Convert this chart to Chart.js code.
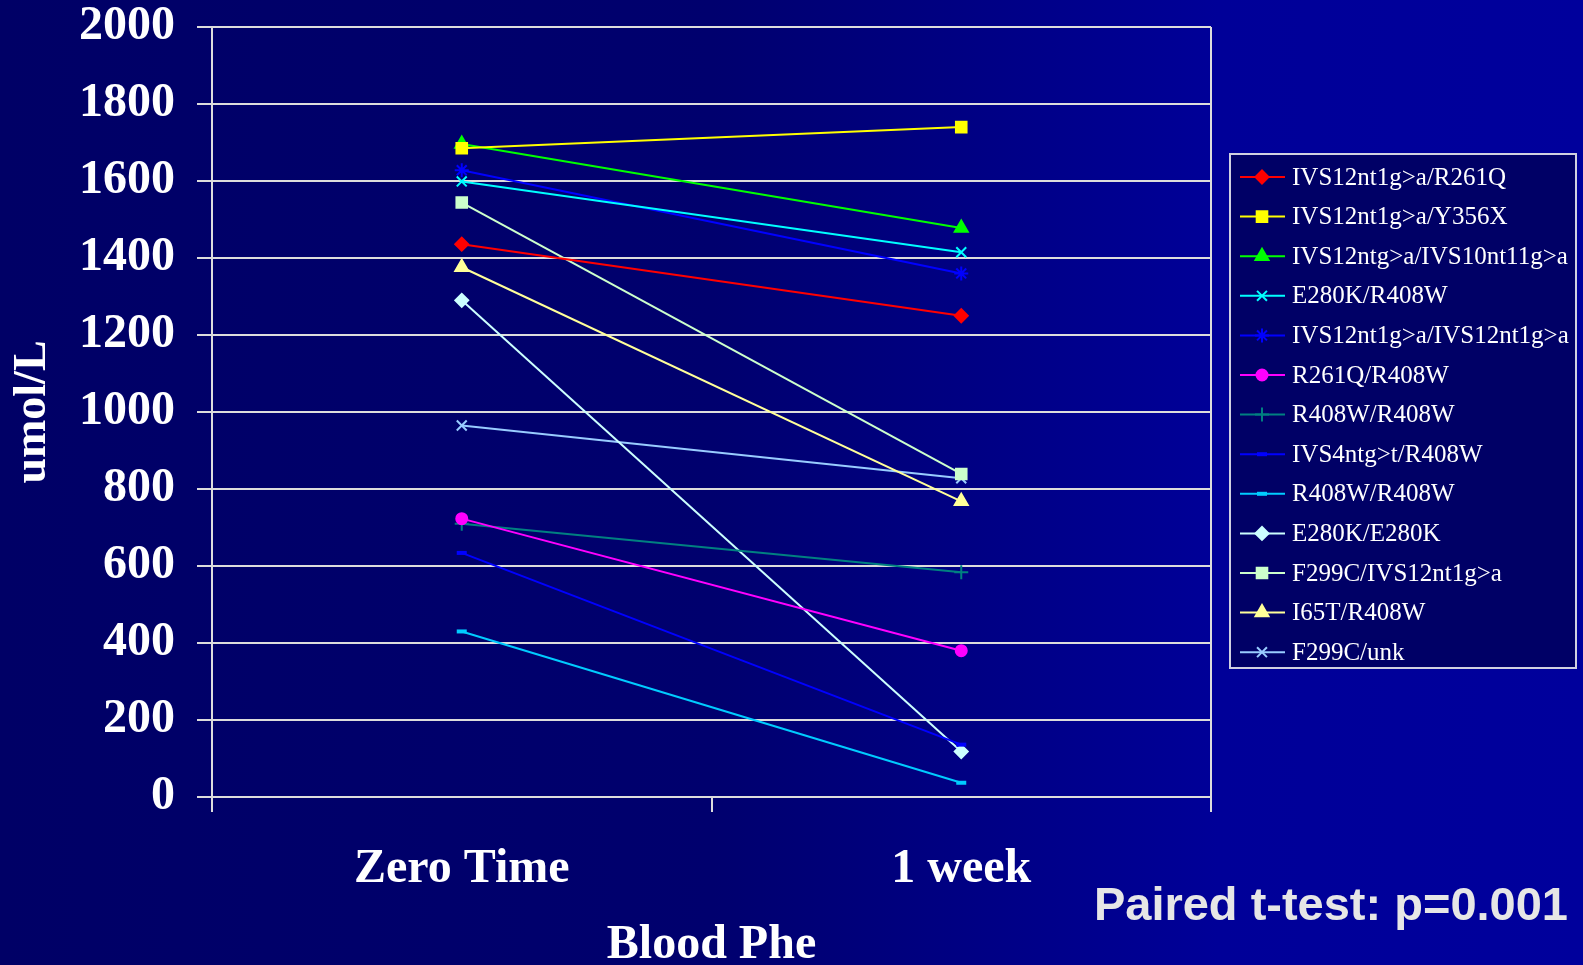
<!DOCTYPE html>
<html>
<head>
<meta charset="utf-8">
<script src="https://cdn.jsdelivr.net/npm/chart.js@4.4.1/dist/chart.umd.min.js"></script>
<style>
  body { margin: 0; background: #000066; }
  #wrap { width: 1583px; height: 965px; }
</style>
</head>
<body>
<div id="wrap"><canvas id="pheChart"></canvas></div>
<script>
// Categories on the x axis
const timePoints = ['Zero Time', '1 week'];

// Genotype names, in legend order
const genotypes = [
    'IVS12nt1g>a/R261Q',
    'IVS12nt1g>a/Y356X',
    'IVS12ntg>a/IVS10nt11g>a',
    'E280K/R408W',
    'IVS12nt1g>a/IVS12nt1g>a',
    'R261Q/R408W',
    'R408W/R408W',
    'IVS4ntg>t/R408W',
    'R408W/R408W',
    'E280K/E280K',
    'F299C/IVS12nt1g>a',
    'I65T/R408W',
    'F299C/unk'
];

// Blood Phe (umol/L) at zero time and after 1 week
const zeroTime = [1436, 1685, 1696, 1599, 1628, 723, 710, 634, 430, 1290, 1544, 1376, 965];
const oneWeek  = [1250, 1740, 1478, 1415, 1360, 380, 584, 136, 37, 118, 839, 768, 828];

// y axis ticks
const yTicks = [0, 200, 400, 600, 800, 1000, 1200, 1400, 1600, 1800, 2000];

// Look of each series
const lineColours = ['#ff0000', '#ffff00', '#00ff00', '#00ffff', '#0000ff', '#ff00ff', '#008080',
                     '#0000ff', '#00ccff', '#ccffff', '#ccffcc', '#ffff99', '#99ccff'];
const markers = ['rectRot', 'rect', 'triangle', 'crossRot', 'star', 'circle', 'cross',
                 'line', 'line', 'rectRot', 'rect', 'triangle', 'crossRot'];
const markerSizes = [6.5, 7.5, 7.5, 7, 7, 5.5, 7, 5, 5, 6.5, 7.5, 7.5, 7];

const gridColour = '#dcdcdc';

let datasets = [];
for (let i = 0; i < genotypes.length; i++) {
    datasets.push({
        label: genotypes[i],
        data: [zeroTime[i], oneWeek[i]],
        borderColor: lineColours[i],
        backgroundColor: lineColours[i],
        borderWidth: 2,
        pointStyle: markers[i],
        pointRadius: markerSizes[i],
        pointBorderWidth: markers[i] === 'line' ? 4 : 2,
        pointBorderColor: lineColours[i],
        pointBackgroundColor: lineColours[i],
        tension: 0
    });
}

// Blue gradient behind everything
const backgroundPlugin = {
    id: 'slideBackground',
    beforeDraw(chart) {
        const ctx = chart.ctx;
        const g = ctx.createLinearGradient(0, 0, chart.width, 0);
        g.addColorStop(0, '#000066');
        g.addColorStop(0.45, '#00006e');
        g.addColorStop(0.77, '#000098');
        g.addColorStop(1, '#00009c');
        ctx.save();
        ctx.fillStyle = g;
        ctx.fillRect(0, 0, chart.width, chart.height);
        ctx.restore();
    }
};

// Boxed legend with line + marker, and the t-test note
const legendPlugin = {
    id: 'boxLegend',
    afterDraw(chart) {
        const ctx = chart.ctx;
        const box = { x: 1230, y: 154, w: 346, h: 514 };
        ctx.save();
        ctx.fillStyle = '#000066';
        ctx.fillRect(box.x, box.y, box.w, box.h);
        ctx.strokeStyle = '#d0d0e0';
        ctx.lineWidth = 2;
        ctx.strokeRect(box.x, box.y, box.w, box.h);

        ctx.font = '25px "Liberation Serif", "Times New Roman", serif';
        ctx.textBaseline = 'middle';
        ctx.textAlign = 'left';
        chart.data.datasets.forEach((ds, i) => {
            const y = 177 + i * 39.6;
            ctx.strokeStyle = ds.borderColor;
            ctx.lineWidth = 2;
            ctx.beginPath();
            ctx.moveTo(1240, y);
            ctx.lineTo(1285, y);
            ctx.stroke();
            ctx.fillStyle = ds.pointBackgroundColor;
            ctx.strokeStyle = ds.pointBorderColor;
            ctx.lineWidth = ds.pointBorderWidth;
            Chart.helpers.drawPoint(ctx, {
                pointStyle: ds.pointStyle,
                radius: ds.pointRadius,
                rotation: 0,
                borderWidth: ds.pointBorderWidth
            }, 1262, y);
            ctx.fillStyle = '#ffffff';
            ctx.fillText(ds.label, 1292, y + 1);
        });

        ctx.fillStyle = '#e6e6e6';
        ctx.font = 'bold 47px "Liberation Sans", Arial, sans-serif';
        ctx.textAlign = 'right';
        ctx.textBaseline = 'alphabetic';
        ctx.fillText('Paired t-test: p=0.001', 1568, 920);
        ctx.restore();
    }
};

const bigFont = { family: '"Liberation Serif", "Times New Roman", serif', size: 48, weight: 'bold', lineHeight: 1.0 };

new Chart(document.getElementById('pheChart'), {
    type: 'line',
    data: { labels: timePoints, datasets: datasets },
    options: {
        responsive: true,
        maintainAspectRatio: false,
        animation: false,
        layout: { padding: { top: 27, right: 372, left: 0, bottom: 0 } },
        plugins: {
            legend: { display: false },
            tooltip: { enabled: false }
        },
        scales: {
            x: {
                offset: true,
                grid: {
                    offset: true,
                    // only the right hand edge gets a full line
                    color: (c) => c.type === 'scale' ? gridColour : 'transparent',
                    tickColor: gridColour,
                    lineWidth: 2,
                    tickLength: 15
                },
                border: { color: gridColour, width: 2 },
                ticks: { color: '#ffffff', font: bigFont, padding: 34 },
                title: {
                    display: true,
                    text: 'Blood Phe',
                    color: '#ffffff',
                    font: { family: bigFont.family, size: 48, weight: 'bold', lineHeight: 0.8 },
                    padding: { top: 0, bottom: 0 }
                },
                afterFit(scale) { scale.height = 168; }
            },
            y: {
                min: 0,
                max: 2000,
                afterBuildTicks(scale) { scale.ticks = yTicks.map(v => ({ value: v })); },
                grid: { color: gridColour, lineWidth: 2, tickLength: 15 },
                border: { color: gridColour, width: 2 },
                ticks: { color: '#ffffff', font: bigFont, padding: 22, callback: (v) => String(v) },
                title: {
                    display: true,
                    text: 'umol/L',
                    color: '#ffffff',
                    font: { family: bigFont.family, size: 46, weight: 'bold', lineHeight: 1.2 },
                    padding: { top: 6, bottom: 0 }
                },
                afterFit(scale) {
                    scale.width = 212;
                    // let the layout padding decide where the plot starts
                    scale.paddingTop = 0;
                    scale.paddingBottom = 0;
                }
            }
        }
    },
    plugins: [backgroundPlugin, legendPlugin]
});
</script>
</body>
</html>
